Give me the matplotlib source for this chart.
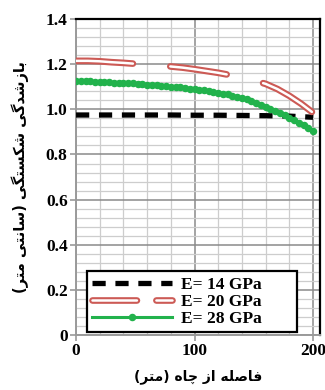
import numpy as np
import matplotlib
matplotlib.use("Agg")
import matplotlib.pyplot as plt
import matplotlib.patheffects as pe
from matplotlib.ticker import MultipleLocator, FixedLocator

plt.rcParams['lines.scale_dashes'] = False

# --- data ---
x_e14 = [0, 20, 40, 60, 80, 100, 120, 140, 160, 180, 200]
y_e14 = [0.975, 0.975, 0.975, 0.975, 0.975, 0.974, 0.974, 0.973, 0.972, 0.970, 0.965]

x_e20 = [0, 10, 20, 30, 40, 50, 60, 70, 80, 90, 100, 110, 120, 130, 140, 150, 160, 170, 180, 190, 200]
y_e20 = [1.215, 1.215, 1.213, 1.209, 1.206, 1.202, 1.198, 1.195, 1.190, 1.185, 1.178,
         1.170, 1.162, 1.152, 1.140, 1.128, 1.113, 1.090, 1.060, 1.025, 0.985]

x_e28 = list(range(0, 201, 4))
y_e28 = [1.125, 1.125, 1.124, 1.124, 1.123, 1.122, 1.121, 1.120, 1.119, 1.118,
         1.117, 1.116, 1.115, 1.113, 1.111, 1.110, 1.108, 1.107, 1.105, 1.103,
         1.101, 1.099, 1.097, 1.095, 1.092, 1.090, 1.087, 1.084, 1.080, 1.077,
         1.074, 1.070, 1.066, 1.061, 1.056, 1.050, 1.044, 1.037, 1.030, 1.021,
         1.012, 1.003, 0.994, 0.985, 0.974, 0.962, 0.952, 0.941, 0.930, 0.918,
         0.905]

labels = ["E= 14 GPa", "E= 20 GPa", "E= 28 GPa"]
y_ticks = [0, 0.2, 0.4, 0.6, 0.8, 1.0, 1.2, 1.4]
y_ticklabels = ["0", "0.2", "0.4", "0.6", "0.8", "1.0", "1.2", "1.4"]
x_ticks = [0, 100, 200]
x_label = "فاصله از چاه (متر)"
y_label = "بازشدگی شکستگی (سانتی متر)"


# small persian shaper: matplotlib draws glyphs without joining / bidi
FORMS = {
    'ا': ('\uFE8D', '\uFE8E', None, None),
    'ب': ('\uFE8F', '\uFE90', '\uFE91', '\uFE92'),
    'ت': ('\uFE95', '\uFE96', '\uFE97', '\uFE98'),
    'ز': ('\uFEAF', '\uFEB0', None, None),
    'د': ('\uFEA9', '\uFEAA', None, None),
    'ر': ('\uFEAD', '\uFEAE', None, None),
    'س': ('\uFEB1', '\uFEB2', '\uFEB3', '\uFEB4'),
    'ش': ('\uFEB5', '\uFEB6', '\uFEB7', '\uFEB8'),
    'ص': ('\uFEB9', '\uFEBA', '\uFEBB', '\uFEBC'),
    'ف': ('\uFED1', '\uFED2', '\uFED3', '\uFED4'),
    'ل': ('\uFEDD', '\uFEDE', '\uFEDF', '\uFEE0'),
    'م': ('\uFEE1', '\uFEE2', '\uFEE3', '\uFEE4'),
    'ن': ('\uFEE5', '\uFEE6', '\uFEE7', '\uFEE8'),
    'ه': ('\uFEE9', '\uFEEA', '\uFEEB', '\uFEEC'),
    'چ': ('\uFB7A', '\uFB7B', '\uFB7C', '\uFB7D'),
    'ک': ('\uFB8E', '\uFB8F', '\uFB90', '\uFB91'),
    'گ': ('\uFB92', '\uFB93', '\uFB94', '\uFB95'),
    'ی': ('\uFBFC', '\uFBFD', '\uFBFE', '\uFBFF'),
}


def shape(s):
    out = []
    for i, c in enumerate(s):
        if c not in FORMS:
            out.append(c)
            continue
        prev = s[i - 1] if i > 0 else ''
        nxt = s[i + 1] if i + 1 < len(s) else ''
        j_prev = prev in FORMS and FORMS[prev][2] is not None
        j_next = FORMS[c][2] is not None and nxt in FORMS
        if j_prev and j_next:
            out.append(FORMS[c][3])
        elif j_prev:
            out.append(FORMS[c][1])
        elif j_next:
            out.append(FORMS[c][2])
        else:
            out.append(FORMS[c][0])
    vis = ''.join(out)[::-1]
    return vis.translate(str.maketrans('()', ')('))


fig = plt.figure(figsize=(3.25, 3.9), dpi=100)
ax = fig.add_axes([0.234, 0.141, 0.751, 0.81])

ax.plot(x_e14, y_e14, color='black', lw=3.8, dashes=(9.5, 7), label=labels[0], zorder=3)
ax.plot(x_e20, y_e20, color='white', lw=1.8, dashes=(41, 27), dash_capstyle='round',
        path_effects=[pe.Stroke(linewidth=4.8, foreground='#cc5a55'), pe.Normal()],
        label=labels[1], zorder=3)
ax.plot(x_e28, y_e28, color='#22b24c', lw=2.2, marker='o', ms=4.4, label=labels[2], zorder=3)

ax.set_xlim(0, 206)
ax.set_ylim(0, 1.4)
ax.xaxis.set_major_locator(FixedLocator(x_ticks))
ax.xaxis.set_minor_locator(MultipleLocator(20))
ax.yaxis.set_major_locator(FixedLocator(y_ticks))
ax.yaxis.set_minor_locator(MultipleLocator(0.04))
ax.set_yticklabels(y_ticklabels)
ax.set_xticklabels([str(v) for v in x_ticks])

ax.grid(which='major', color='#8a8a8a', lw=1.1, zorder=0)
ax.grid(which='minor', color='#cdcdcd', lw=0.9, zorder=0)
ax.set_axisbelow(True)

for s in ['left', 'bottom']:
    ax.spines[s].set_color('#9a9a9a')
    ax.spines[s].set_linewidth(1.4)
for s in ['top', 'right']:
    ax.spines[s].set_color('black')
    ax.spines[s].set_linewidth(1.6)

ax.tick_params(which='major', length=4, width=1.2, color='#9a9a9a', pad=2)
ax.tick_params(which='minor', length=0)
for t in ax.get_xticklabels() + ax.get_yticklabels():
    t.set_fontfamily('Liberation Serif')
    t.set_fontweight('bold')
    t.set_fontsize(12.5)

ax.set_xlabel(shape(x_label), family=['DejaVu Sans'], fontweight='bold', fontsize=10, labelpad=7)
ax.set_ylabel(shape(y_label), family=['DejaVu Sans'], fontweight='bold', fontsize=10.5, labelpad=12)

leg = ax.legend(loc='lower left', bbox_to_anchor=(0.045, 0.0095, 0.861, 0.203), mode='expand',
                prop={'family': 'Liberation Serif', 'weight': 'bold', 'size': 12.5},
                handlelength=4.6, handletextpad=0.5, labelspacing=0.05, borderpad=0.3,
                fancybox=False, framealpha=1, edgecolor='black', borderaxespad=0)
leg.get_frame().set_linewidth(1.6)
leg.get_lines()[1].set_dashes((32, 14))
leg.set_zorder(5)

fig.savefig("out.png", dpi=100)
